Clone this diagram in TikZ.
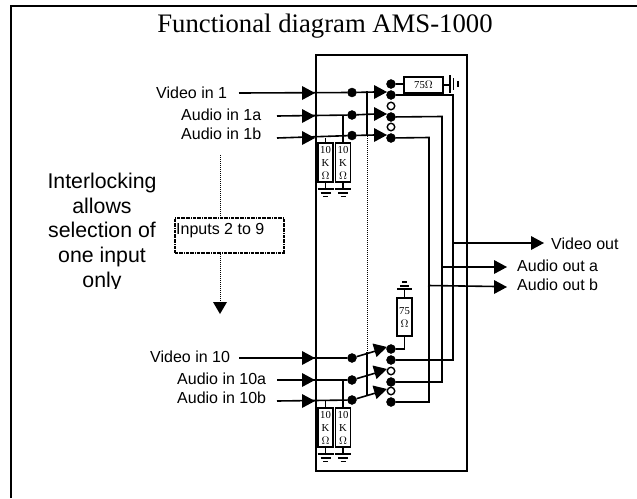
\documentclass[tikz,border=0pt]{standalone}
\usepackage{fontspec}
\setmainfont{Liberation Serif}
\newfontfamily\arialf{Liberation Sans}
\usetikzlibrary{arrows.meta}
\tikzset{
  wire/.style={line width=1.6pt},
  thin wire/.style={line width=1.2pt},
  dot/.style={circle,fill=black,draw=black,inner sep=0pt,minimum size=9pt},
  open/.style={circle,fill=white,draw=black,line width=1.4pt,inner sep=0pt,minimum size=7.5pt},
  res/.style={draw,line width=1.6pt,fill=white,inner sep=0pt,align=center,font=\fontsize{10.7}{13}\selectfont},
  lab/.style={font=\arialf\fontsize{16}{16}\selectfont,inner sep=0pt,anchor=west},
  side/.style={font=\arialf\fontsize{21.3}{24.8}\selectfont,inner sep=0pt,align=center,anchor=base},
}
\begin{document}
\begin{tikzpicture}[x=1pt,y=-1pt]
\useasboundingbox (0,0) rectangle (637,498);
\draw[line width=1.6pt] (11,498) coordinate (fb) -- (11,6) coordinate (fc) -- (637,6) coordinate (fr);
\node[inner sep=0pt,anchor=base,font=\fontsize{26.7}{26.7}\selectfont] (title) at (325,32) {Functional diagram AMS-1000};
\node[draw,line width=1.6pt,minimum width=151pt,minimum height=416pt,inner sep=0pt] (box) at (391.5,263) {};
% side text, its last line cut off at the descender as in the reference
\begin{scope}
\clip (20,170) rectangle (170,288);
\node[side] (l1) at (102,188) {Interlocking};
\node[side] (l2) at (102,213) {allows};
\node[side] (l3) at (102,237) {selection of};
\node[side] (l4) at (102,262) {one input};
\node[side] (l5) at (102,287) {only};
\end{scope}
% dotted
\coordinate (ds) at (220,155);
\node[draw,densely dashdotted,line width=1.6pt,minimum width=109pt,minimum height=35pt,inner sep=0pt] (ib) at (229.5,235.5) {};
\node[lab] (inp) at (176,231) {Inputs 2 to 9};
\coordinate (da) at (220,314);
\draw[densely dotted,line width=1pt] (ds) -- (ib.north -| ds);
\draw[densely dotted,line width=1pt] (ib.south -| da) -- (220,304);
\fill (213,302) -- (227,302) -- (da) -- cycle;
% labels
\node[lab] (v1) at (156,93) {Video in 1};
\node[lab] (a1) at (181,115) {Audio in 1a};
\node[lab] (b1) at (181,133.5) {Audio in 1b};
\node[lab] (v10) at (150,357) {Video in 10};
\node[lab] (a10) at (177,379) {Audio in 10a};
\node[lab] (b10) at (177,398) {Audio in 10b};
\node[lab] (vo) at (551,244) {Video out};
\node[lab] (ao) at (517,266) {Audio out a};
\node[lab] (bo) at (517,285) {Audio out b};
% input dots
\foreach \n/\y in {i1/92.5,i2/115,i3/135.5,j1/358,j2/380,j3/400}{\node[dot] (\n) at (352,\y) {};}
% contact columns
\foreach \n/\y in {t0/84,t1/95,t2/117,t3/138,u0/349,u1/360,u2/382,u3/402}{\node[dot] (\n) at (391,\y) {};}
\foreach \n/\y in {ot1/106,ot2/127,ou1/371,ou2/391}{\node[open] (\n) at (391,\y) {};}
% input wires
\coordinate (sv1) at (239,93);\coordinate (sa1) at (277,116);\coordinate (sb1) at (277,138);
\coordinate (sv2) at (239,358);\coordinate (sa2) at (277,380);\coordinate (sb2) at (277,401);
\foreach \s/\e in {sv1/i1,sa1/i2,sb1/i3,sv2/j1,sa2/j2,sb2/j3}{\draw[wire] (\s) -- (\e);}
\foreach \x/\y in {315/93,315/116,315/138,315/358,315/380,315/401}{\fill (\x-13,\y-7) -- (\x,\y) -- (\x-13,\y+7) -- cycle;}
% switch arms
\foreach \e/\x/\y in {i1/387/92,i2/387/114,i3/387/135}{\draw[wire] (\e) -- (375,\y);\fill (\x-13,\y-7) -- (\x,\y) -- (\x-13,\y+7) -- cycle;}
\foreach \e/\y in {j1/347,j2/369,j3/389}{\draw[wire] (\e) -- (375,\y+4.2);\fill (387,\y) -- (372.5,\y-3.5) -- (376.5,\y+10) -- cycle;}
% interlock line
\draw[thin wire] (367,91) -- (367,136);
\draw[densely dotted,line width=1pt] (367,136) -- (367,352);
\draw[thin wire] (367,352) -- (367,395);
% resistors
\node[res,minimum width=15pt,minimum height=39pt] (r1) at (325.5,162.5) {10\\K\\$\Omega$};
\node[res,minimum width=15pt,minimum height=39pt] (r2) at (343,162.5) {10\\K\\$\Omega$};
\node[res,minimum width=15pt,minimum height=39pt] (r3) at (325.5,427.5) {10\\K\\$\Omega$};
\node[res,minimum width=15pt,minimum height=39pt] (r4) at (343,427.5) {10\\K\\$\Omega$};
\node[res,minimum width=39pt,minimum height=16pt] (r5) at (423.5,85) {75$\Omega$};
\node[res,minimum width=15pt,minimum height=38pt] (r6) at (404.5,317) {75\\$\Omega$};
\draw[thin wire] (r1.north) -- (325.5,137.5);
\draw[wire] (r2.north) -- (343,116);
\draw[thin wire] (r3.north) -- (325.5,401);
\draw[wire] (r4.north) -- (343,380);
% grounds
\foreach \r/\x/\y in {r1/325.5/182,r2/343/182,r3/325.5/447,r4/343/447}{
 \draw[wire] (\r.south) -- (\x,\y+7);
 \draw[wire] (\x-8,\y+7) -- (\x+8,\y+7);
 \draw[wire] (\x-5,\y+11) -- (\x+5,\y+11);
 \draw[wire] (\x-2.5,\y+14.5) -- (\x+2.5,\y+14.5);
}
\draw[wire] (t0) -- (t0 -| r5.west);
\draw[wire] (r5.east) -- (450,85);
\draw[wire] (450,75) -- (450,93);
\draw[wire] (453.5,78) -- (453.5,90);
\draw[wire] (458,81) -- (458,87);
\draw[wire] (u0) -| (r6.south);
\draw[wire] (r6.north) -- (404.5,289);
\draw[wire] (397,289) -- (412,289);
\draw[wire] (400,286) -- (409,286);
\draw[wire] (402,282) -- (407,282);
% output wires
\draw[wire] (t1) -- (453,95) -- (453,360) -- (u1);
\draw[wire] (t2) -- (442,116.5) -- (442,382) -- (u2);
\draw[wire] (t3) -- (429,137.5) -- (429,402) -- (u3);
\draw[wire] (453,243) -- (533,243);
\draw[wire] (442,267) -- (496,267);
\draw[wire] (428,285.5) -- (496,286.5);
\fill (531,236) -- (544,243) -- (531,250) -- cycle;
\fill (494,260) -- (507,267) -- (494,274) -- cycle;
\fill (494,280) -- (507,287) -- (494,294) -- cycle;
\end{tikzpicture}
\end{document}
